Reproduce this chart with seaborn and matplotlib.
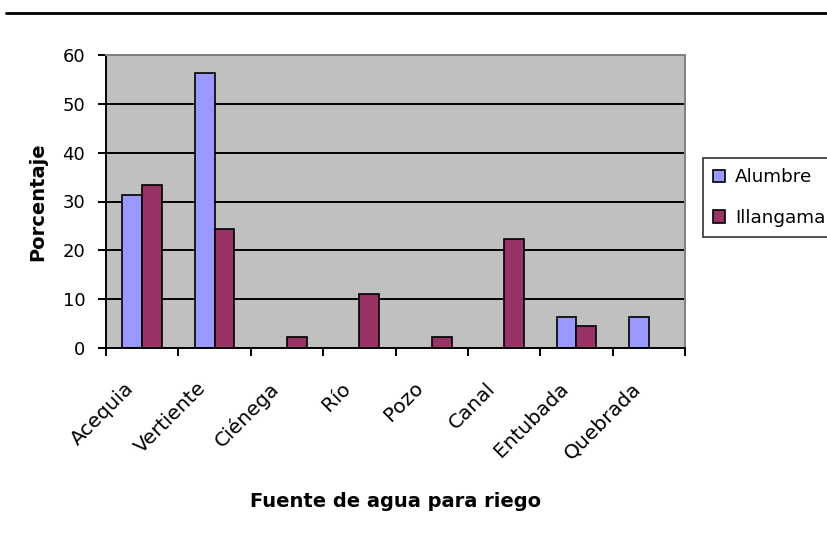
import matplotlib
matplotlib.use("Agg")
import matplotlib.pyplot as plt
from matplotlib.lines import Line2D
from matplotlib.ticker import FixedLocator
from matplotlib.transforms import ScaledTranslation
import seaborn as sns
import pandas as pd

# Irrigation water sources and percentage of users per community
fuentes = ["Acequia", "Vertiente", "Ciénega", "Río", "Pozo", "Canal", "Entubada", "Quebrada"]
alumbre = [31.25, 56.25, 0.0, 0.0, 0.0, 0.0, 6.25, 6.25]
illangama = [33.33, 24.44, 2.22, 11.11, 2.22, 22.22, 4.44, 0.0]
comunidades = ["Alumbre", "Illangama"]
colores = ["#9999FF", "#993366"]

df = pd.DataFrame({
    "fuente": fuentes * 2,
    "valor": alumbre + illangama,
    "comunidad": [comunidades[0]] * len(fuentes) + [comunidades[1]] * len(fuentes),
})

sns.set_theme(style="white")
plt.rcParams["font.family"] = ["DejaVu Sans"]
plt.rcParams["text.color"] = "black"

W, H = 827, 533
fig = plt.figure(figsize=(W / 100, H / 100), dpi=100)
ax = fig.add_axes([106 / W, 1 - 348 / H, (685 - 106) / W, (348 - 55) / H])
ax.set_facecolor("#C0C0C0")

sns.barplot(data=df, x="fuente", y="valor", hue="comunidad", order=fuentes,
            hue_order=comunidades, palette=colores, width=0.55, gap=0,
            edgecolor="black", linewidth=1.2, saturation=1, ax=ax, legend=False)

ax.set_xlim(-0.5, len(fuentes) - 0.5)
ax.set_ylim(0, 60)
ax.set_yticks(range(0, 61, 10))
ax.yaxis.grid(True, color="black", linewidth=1.4)
ax.set_axisbelow(True)

for side in ["left", "bottom"]:
    ax.spines[side].set_color("black")
    ax.spines[side].set_linewidth(1.4)
for side in ["top", "right"]:
    ax.spines[side].set_color("#808080")
    ax.spines[side].set_linewidth(1.4)

ax.tick_params(axis="y", direction="out", length=6, width=1.4, color="black",
               labelsize=13, pad=9, left=True)
ax.tick_params(axis="x", which="major", length=0, labelsize=14.5, pad=22)
ax.xaxis.set_minor_locator(FixedLocator([i - 0.5 for i in range(len(fuentes) + 1)]))
ax.tick_params(axis="x", which="minor", direction="out", length=6, width=1.4,
               color="black", bottom=True)

ax.set_xticks(range(len(fuentes)))
ax.set_xticklabels(fuentes, rotation=45, ha="right", va="top", rotation_mode="anchor")
shift = ScaledTranslation(-18 / 100, 0, fig.dpi_scale_trans)
for lbl in ax.get_xticklabels():
    lbl.set_color("black")
    lbl.set_transform(lbl.get_transform() + shift)
for lbl in ax.get_yticklabels():
    lbl.set_color("black")

ax.set_ylabel("Porcentaje", fontsize=14, fontweight="bold", color="black", labelpad=11)
ax.set_xlabel("Fuente de agua para riego", fontsize=14, fontweight="bold", color="black")
ax.xaxis.set_label_coords(0.5, -0.492)

handles = [plt.Rectangle((0, 0), 1, 1, facecolor=c, edgecolor="black", linewidth=1.2)
           for c in colores]
leg = fig.legend(handles, comunidades, loc="upper left",
                 bbox_to_anchor=(703 / W, 1 - 158 / H), frameon=True, fontsize=13.2,
                 handlelength=0.65, handleheight=0.65, handletextpad=0.55,
                 labelspacing=1.25, borderpad=0.55, fancybox=False, borderaxespad=0)
leg.get_frame().set_edgecolor("black")
leg.get_frame().set_linewidth(1.2)
leg.get_frame().set_facecolor("white")
for t in leg.get_texts():
    t.set_color("black")

# Rule across the top of the figure
fig.add_artist(Line2D([6 / W, 1.0], [1 - 12.5 / H, 1 - 12.5 / H],
                      transform=fig.transFigure, color="black", linewidth=2))

fig.savefig("out.png", dpi=100, facecolor="white")
